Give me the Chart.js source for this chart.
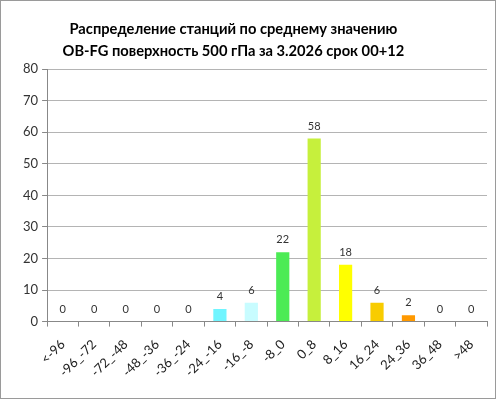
<!DOCTYPE html>
<html>
<head>
<meta charset="utf-8">
<script src="https://cdn.jsdelivr.net/npm/chart.js@4"></script>
<style>
  html, body { margin: 0; padding: 0; background: #fff; }
  #box { position: absolute; left: 0; top: 0; width: 494px; height: 397px; border: 1px solid #9a9a9a; }
  canvas { display: block; }
</style>
</head>
<body>
<div id="box"><canvas id="myChart" width="494" height="397"></canvas></div>
<script>
const categories = ['<-96', '-96_-72', '-72_-48', '-48_-36', '-36_-24', '-24_-16', '-16_-8', '-8_0', '0_8', '8_16', '16_24', '24_36', '36_48', '>48']
const counts = [0, 0, 0, 0, 0, 4, 6, 22, 58, 18, 6, 2, 0, 0]
const barColors = ['#66f4ff', '#66f4ff', '#66f4ff', '#66f4ff', '#66f4ff', '#70f5ff', '#c8fcff', '#4ceb55', '#c6f03c', '#ffff00', '#f8cc00', '#ff9900', '#ff9900', '#ff9900']
const yTicks = [0, 10, 20, 30, 40, 50, 60, 70, 80]
// trailing spaces push the centred title a bit to the left, as in the original
const titleLines = ['Распределение станций по среднему значению           ', 'OB-FG поверхность 500 гПа за 3.2026 срок 00+12           ']

// values above bars
const valueLabels = {
  id: 'valueLabels',
  afterDatasetsDraw(chart) {
    const ctx = chart.ctx
    const meta = chart.getDatasetMeta(0)
    ctx.save()
    ctx.font = '11px Lato, "DejaVu Sans", sans-serif'
    ctx.fillStyle = '#333'
    ctx.textAlign = 'center'
    ctx.textBaseline = 'bottom'
    meta.data.forEach((bar, i) => {
      ctx.fillText(String(counts[i]), bar.x, bar.y - 7)
    })
    ctx.restore()
  }
}

var ctx = document.getElementById('myChart').getContext('2d')
var myChart = new Chart(ctx, {
  type: 'bar',
  data: {
    labels: categories,
    datasets: [{
      data: counts,
      backgroundColor: barColors,
      borderWidth: 0,
      barPercentage: 0.42,
      categoryPercentage: 1
    }]
  },
  plugins: [valueLabels],
  options: {
    responsive: false,
    devicePixelRatio: 1,
    animation: false,
    layout: { padding: { left: 18, right: 8, top: 6, bottom: 8 } },
    plugins: {
      legend: { display: false },
      tooltip: { enabled: false },
      title: {
        display: true,
        text: titleLines,
        color: '#000',
        font: { family: 'Lato, "DejaVu Sans", sans-serif', size: 14.7, weight: 'bold', lineHeight: 1.5 },
        padding: { top: 11, bottom: 7 }
      }
    },
    scales: {
      y: {
        min: 0,
        max: 80,
        afterBuildTicks: (axis) => { axis.ticks = yTicks.map(v => ({ value: v })) },
        ticks: { color: '#333', font: { family: 'Lato, "DejaVu Sans", sans-serif', size: 13 }, padding: 4 },
        grid: { color: '#b4b4b4', lineWidth: 1, tickLength: 5, tickColor: '#888' },
        border: { color: '#888' }
      },
      x: {
        ticks: {
          minRotation: 45, maxRotation: 45,
          color: '#222',
          font: { family: 'Lato, "DejaVu Sans", sans-serif', size: 13 },
          padding: 10
        },
        grid: { offset: true, drawOnChartArea: false, tickLength: 5, color: '#888' },
        border: { color: '#888' }
      }
    }
  }
})
</script>
</body>
</html>
